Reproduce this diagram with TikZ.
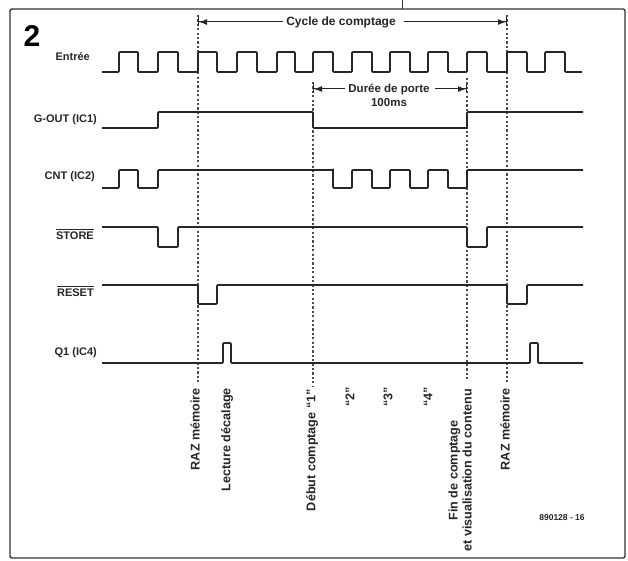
\documentclass[tikz,border=0pt]{standalone}
\usepackage{fontspec}
\setmainfont{Liberation Sans}
\usetikzlibrary{arrows.meta}
\newcommand{\ovl}[1]{\vbox{\hrule height 0.9pt\kern 1.6pt\hbox{#1}}}
\begin{document}
\begin{tikzpicture}[x=1pt,y=-1pt,
  sig/.style={line width=1.6pt, draw=black!85, line join=round, rounded corners=0.8pt},
  guide/.style={line width=1.1pt, draw=black!70, dash pattern=on 2.2pt off 2.2pt},
  frame/.style={line width=1.4pt, draw=black!80, rounded corners=2pt},
  lbl/.style={font=\fontsize{11}{13}\selectfont\bfseries, text=black!85, inner sep=0pt},
  vlbl/.style={lbl, font=\fontsize{12.6}{14}\selectfont\bfseries, rotate=90, anchor=east},
  dimline/.style={line width=1pt, draw=black!85},
  tipR/.style={-{Latex[length=8pt,width=6pt]Bar[width=9pt,line width=1pt]}},
]
\useasboundingbox (0,0) rectangle (628,561);
\fill[white] (0,0) rectangle (628,561);
% frame
\draw[frame] (10,9) rectangle (625,558);
\coordinate (tickTop) at (402,0);
\coordinate (tickBot) at (402,9);
\draw[line width=1pt, black!80] (tickTop) -- (tickBot);
% figure number
\node[font=\fontsize{30}{32}\selectfont\bfseries, inner sep=0pt] (fig) at (32,36) {2};
% dashed guides
\coordinate (g1t) at (198,15);  \coordinate (g1b) at (198,384);
\coordinate (g2t) at (313,82);  \coordinate (g2b) at (313,386);
\coordinate (g3t) at (467,78);  \coordinate (g3b) at (467,380);
\coordinate (g4t) at (507,15);  \coordinate (g4b) at (507,384);
\draw[guide] (g1t) -- (g1b);
\draw[guide] (g2t) -- (g2b);
\draw[guide] (g3t) -- (g3b);
\draw[guide] (g4t) -- (g4b);
% cycle arrow
\node[lbl, font=\fontsize{12}{14}\selectfont\bfseries] (cyc) at (341,22) {Cycle de comptage};
\coordinate (cycL) at (198,22);
\coordinate (cycR) at (507,22);
\draw[dimline, tipR] ([xshift=-3pt]cyc.west) -- (cycL);
\draw[dimline, tipR] ([xshift=8pt]cyc.east) -- (cycR);
% gate arrow
\node[lbl, font=\fontsize{11.5}{13}\selectfont\bfseries] (gate) at (389,89) {Durée de porte};
\node[lbl, font=\fontsize{11.5}{13}\selectfont\bfseries] (ms) at (389,103) {100ms};
\coordinate (gateL) at (313,89);
\coordinate (gateR) at (467,89);
\draw[dimline, tipR] ([xshift=-3pt]gate.west) -- (gateL);
\draw[dimline, tipR] ([xshift=5pt]gate.east) -- (gateR);
% signal labels
\node[lbl, anchor=east] (lin) at (90,57) {Entrée};
\node[lbl, anchor=east] (lgo) at (97,120) {G-OUT (IC1)};
\node[lbl, anchor=east] (lcnt) at (95,177) {CNT (IC2)};
\node[lbl, anchor=east] (lst) at (94,234) {\ovl{STORE}};
\node[lbl, anchor=east] (lrs) at (94,291) {\ovl{RESET}};
\node[lbl, anchor=east] (lq) at (97,353) {Q1 (IC4)};
% Entree
\draw[sig] (102,72)
  \foreach \r/\f in {119/138,158/178,198/217,237/257,277/295,313/333,352/372,390/410,428/448,467/487,507/527,545/565}
  { -- (\r,72) -- (\r,52) -- (\f,52) -- (\f,72) } -- (582,72);
% G-OUT
\draw[sig] (102,128) -- (158,128) -- (158,112) -- (313,112) -- (313,128) -- (467,128) -- (467,112) -- (583,112);
% CNT
\draw[sig] (102,188) -- (119,188) -- (119,170) -- (138,170) -- (138,188) -- (158,188) -- (158,170) -- (333,170)
  \foreach \f/\r in {333/352,372/390,410/428,448/467}
  { -- (\f,170) -- (\f,188) -- (\r,188) -- (\r,170) } -- (583,170);
% STORE
\draw[sig] (102,227) -- (158,227) -- (158,247) -- (178,247) -- (178,227) -- (467,227) -- (467,247) -- (487,247) -- (487,227) -- (583,227);
% RESET
\draw[sig] (102,285) -- (198,285) -- (198,304) -- (217,304) -- (217,285) -- (507,285) -- (507,304) -- (527,304) -- (527,285) -- (583,285);
% Q1
\draw[sig] (102,363) -- (223,363) -- (223,343) -- (231,343) -- (231,363) -- (530,363) -- (530,343) -- (538,343) -- (538,363) -- (583,363);
% bottom labels
\node[vlbl] (e1) at (195,388) {RAZ mémoire};
\node[vlbl] (e2) at (227,388) {Lecture décalage};
\node[vlbl] (e3) at (312,389) {Début comptage “1”};
\node[vlbl] (e4) at (350,387) {“2”};
\node[vlbl] (e5) at (388,387) {“3”};
\node[vlbl] (e6) at (428,387) {“4”};
\node[vlbl, align=center] (e7) at (460,389) {Fin de comptage\\et visualisation du contenu};
\node[vlbl] (e8) at (505,388) {RAZ mémoire};
\node[lbl, font=\fontsize{8.5}{10}\selectfont\bfseries] (ref) at (562,518) {890128 - 16};
\end{tikzpicture}
\end{document}
